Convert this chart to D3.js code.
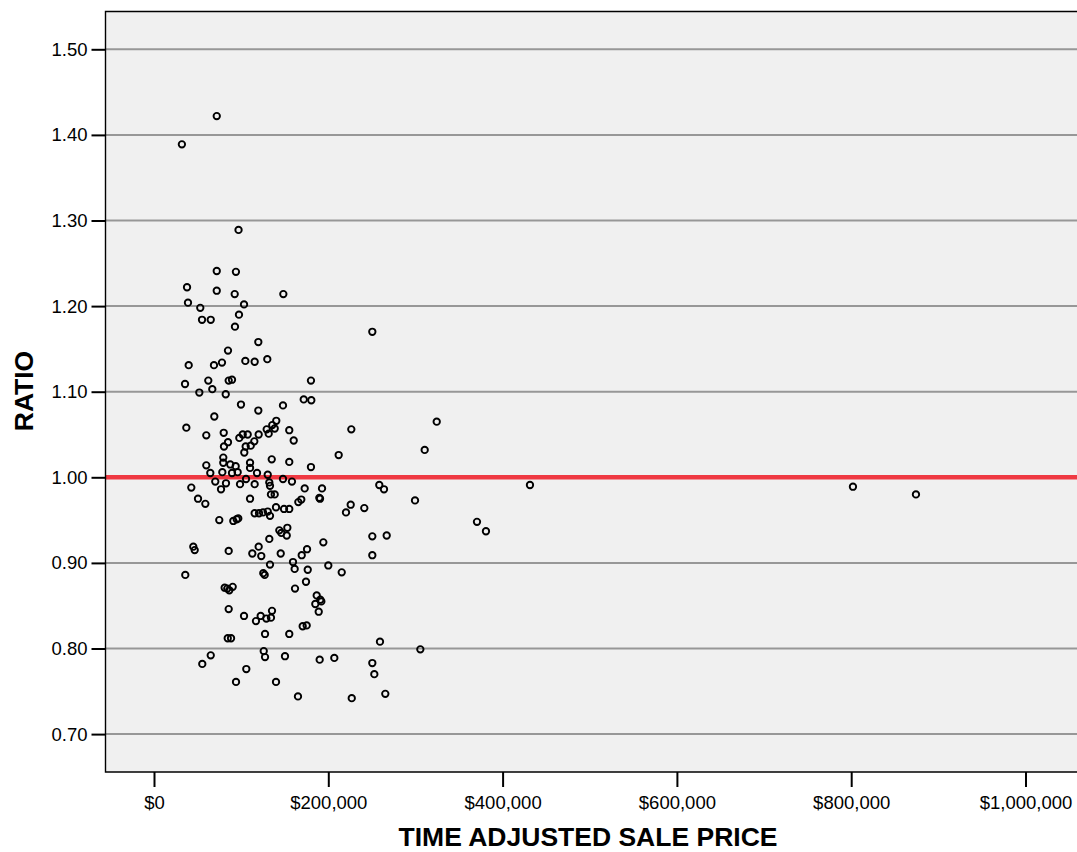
<!DOCTYPE html>
<html>
<head>
<meta charset="utf-8">
<script src="https://cdn.jsdelivr.net/npm/d3@7/dist/d3.min.js"></script>
<style>
  html, body { margin: 0; padding: 0; background: #ffffff; }
  svg { display: block; font-family: "Liberation Sans", Arial, sans-serif; }
</style>
</head>
<body>
<svg id="chart" width="1077" height="852"></svg>
<script>
// Sales ratio study: assessed/sale ratio against time-adjusted sale price
const salePrice = [
  72000, 32000, 97000, 72000, 94000, 37900, 72000, 92600, 148400, 39000,
  53100, 103300, 97500, 55100, 65100, 92900, 119700, 84900, 39800, 68800,
  78000, 104800, 115500, 130000, 180100, 35600, 62300, 85700, 89500, 66900,
  52000, 82300, 171800, 180500, 99800, 119700, 148000, 69200, 140300, 135700,
  129300, 138500, 131600, 37100, 60000, 80000, 155200, 160300, 101800, 107500,
  97900, 120100, 115100, 111000, 105200, 84900, 80300, 103600, 211900, 79500,
  79500, 60000, 87500, 93700, 110200, 110200, 135100, 155200, 180100, 64600,
  78400, 89500, 96000, 118200, 130500, 70300, 82600, 98700, 105600, 115500,
  132300, 133100, 148000, 158300, 42800, 76900, 172900, 192800, 50500, 58900,
  110200, 134200, 138500, 165600, 169000, 189700, 190500, 140000, 149200, 155200,
  115500, 120500, 125100, 130500, 133100, 74900, 96700, 91000, 94900, 143800,
  146100, 153000, 152300, 132300, 120100, 45100, 46700, 85700, 112800, 123100,
  145400, 175600, 169500, 194300, 159500, 161400, 176400, 133100, 200000, 215400,
  35900, 125400, 127000, 81100, 84100, 90300, 86400, 161800, 174400, 186700,
  190800, 185100, 192000, 189000, 85700, 103300, 122400, 135400, 128900, 134200,
  117000, 127400, 155200, 170600, 175200, 84600, 88400, 65100, 55400, 125900,
  127400, 150300, 190100, 206900, 105900, 94100, 140000, 165200, 250500, 324400,
  226400, 310600, 258500, 263900, 225700, 220300, 241300, 299500, 250500, 267000,
  250500, 259300, 305600, 250500, 252800, 226900, 265400, 370600, 380900, 431400,
  802000, 874300
];
const ratio = [
  1.422, 1.389, 1.289, 1.241, 1.240, 1.222, 1.218, 1.214, 1.214, 1.204,
  1.198, 1.202, 1.190, 1.184, 1.184, 1.176, 1.158, 1.148, 1.131, 1.131,
  1.134, 1.136, 1.135, 1.138, 1.113, 1.109, 1.113, 1.113, 1.114, 1.103,
  1.099, 1.097, 1.091, 1.090, 1.085, 1.078, 1.084, 1.071, 1.066, 1.061,
  1.056, 1.057, 1.051, 1.058, 1.049, 1.052, 1.055, 1.043, 1.050, 1.050,
  1.046, 1.050, 1.042, 1.037, 1.036, 1.041, 1.036, 1.029, 1.026, 1.023,
  1.017, 1.014, 1.015, 1.013, 1.017, 1.011, 1.021, 1.018, 1.012, 1.005,
  1.006, 1.005, 1.006, 1.005, 1.003, 0.995, 0.993, 0.992, 0.998, 0.992,
  0.994, 0.990, 0.998, 0.995, 0.988, 0.986, 0.987, 0.987, 0.975, 0.969,
  0.975, 0.980, 0.980, 0.971, 0.974, 0.976, 0.975, 0.965, 0.963, 0.963,
  0.958, 0.958, 0.959, 0.960, 0.955, 0.950, 0.952, 0.949, 0.951, 0.938,
  0.935, 0.941, 0.932, 0.928, 0.919, 0.919, 0.915, 0.914, 0.911, 0.908,
  0.911, 0.916, 0.909, 0.924, 0.901, 0.893, 0.892, 0.898, 0.897, 0.889,
  0.886, 0.888, 0.886, 0.871, 0.870, 0.872, 0.868, 0.870, 0.878, 0.862,
  0.857, 0.852, 0.855, 0.843, 0.846, 0.838, 0.838, 0.844, 0.835, 0.836,
  0.832, 0.817, 0.817, 0.826, 0.827, 0.812, 0.812, 0.792, 0.782, 0.797,
  0.790, 0.791, 0.787, 0.789, 0.776, 0.761, 0.761, 0.744, 1.170, 1.065,
  1.056, 1.032, 0.991, 0.986, 0.968, 0.959, 0.964, 0.973, 0.931, 0.932,
  0.909, 0.808, 0.799, 0.783, 0.770, 0.742, 0.747, 0.948, 0.937, 0.991,
  0.989, 0.980
];
const priceTicks = [0, 200000, 400000, 600000, 800000, 1000000];
const ratioTicks = [0.70, 0.80, 0.90, 1.00, 1.10, 1.20, 1.30, 1.40, 1.50];
const referenceRatio = 1.00;
const xTitle = "TIME ADJUSTED SALE PRICE";
const yTitle = "RATIO";

// Layout
const plot = { left: 105.5, top: 11.5, right: 1077.5, bottom: 772 };
const svg = d3.select("#chart");

const x = d3.scaleLinear().domain([0, 1000000]).range([154, 1025.5]);
const y = d3.scaleLinear().domain([0.70, 1.50]).range([734.1, 49.3]);

const points = salePrice.map((p, i) => ({ price: p, ratio: ratio[i] }));

// Plot background
svg.append("rect")
  .attr("x", plot.left).attr("y", plot.top)
  .attr("width", plot.right - plot.left)
  .attr("height", plot.bottom - plot.top)
  .attr("fill", "#f0f0f0");

// Horizontal grid lines at each ratio tick
svg.append("g").selectAll("line")
  .data(ratioTicks)
  .join("line")
  .attr("x1", plot.left).attr("x2", plot.right)
  .attr("y1", d => y(d)).attr("y2", d => y(d))
  .attr("stroke", "#979797")
  .attr("stroke-width", 2);

// Reference line at ratio 1.00
svg.append("line")
  .attr("x1", plot.left).attr("x2", plot.right)
  .attr("y1", y(referenceRatio)).attr("y2", y(referenceRatio))
  .attr("stroke", "#ef3942")
  .attr("stroke-width", 4.4);

// Scatter points
svg.append("g").selectAll("circle")
  .data(points)
  .join("circle")
  .attr("cx", d => x(d.price))
  .attr("cy", d => y(d.ratio))
  .attr("r", 3.2)
  .attr("fill", "none")
  .attr("stroke", "#000")
  .attr("stroke-width", 1.9);

// Plot frame (left, top, bottom)
svg.append("path")
  .attr("d", `M${plot.right},${plot.top}H${plot.left}V${plot.bottom}H${plot.right}`)
  .attr("fill", "none")
  .attr("stroke", "#000")
  .attr("stroke-width", 1.4);

// Y axis
const yAxis = svg.append("g")
  .attr("transform", `translate(${plot.left},0)`)
  .call(d3.axisLeft(y).tickValues(ratioTicks).tickFormat(d3.format(".2f"))
    .tickSize(14).tickPadding(4));
yAxis.select(".domain").remove();
yAxis.selectAll(".tick line").attr("stroke", "#000").attr("stroke-width", 2);
yAxis.selectAll(".tick text")
  .attr("font-family", "'Liberation Sans', Arial, sans-serif")
  .attr("font-size", 18.5)
  .attr("fill", "#000");

// X axis
const xAxis = svg.append("g")
  .attr("transform", `translate(0,${plot.bottom})`)
  .call(d3.axisBottom(x).tickValues(priceTicks).tickFormat(d3.format("$,.0f"))
    .tickSize(15).tickPadding(9));
xAxis.select(".domain").remove();
xAxis.selectAll(".tick line").attr("stroke", "#000").attr("stroke-width", 2);
xAxis.selectAll(".tick text")
  .attr("font-family", "'Liberation Sans', Arial, sans-serif")
  .attr("font-size", 18.5)
  .attr("fill", "#000");

// Axis titles
svg.append("text")
  .attr("x", 588).attr("y", 846)
  .attr("text-anchor", "middle")
  .attr("font-size", 26.5)
  .attr("font-weight", "bold")
  .attr("fill", "#000")
  .text(xTitle);

svg.append("text")
  .attr("transform", "translate(33,391) rotate(-90)")
  .attr("text-anchor", "middle")
  .attr("font-size", 26.5)
  .attr("font-weight", "bold")
  .attr("fill", "#000")
  .text(yTitle);
</script>
</body>
</html>
